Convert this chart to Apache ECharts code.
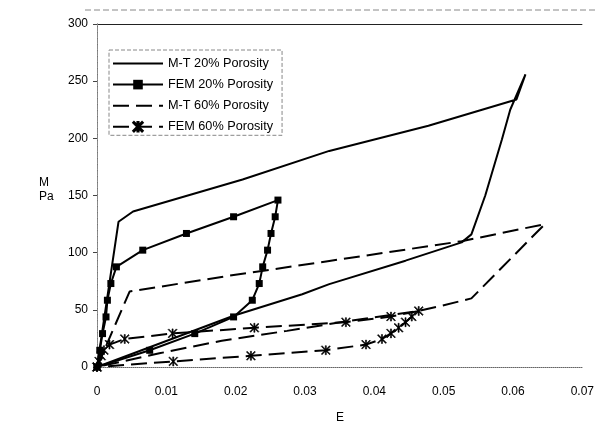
<!DOCTYPE html>
<html><head><meta charset="utf-8">
<script src="https://cdn.jsdelivr.net/npm/echarts@6/dist/echarts.min.js"></script>
<style>html,body{margin:0;padding:0;background:#fff}#c{width:597px;height:440px}</style>
</head><body><div id="c"></div>
<script>
// ---- data ----
const seriesNames = ['M-T 20% Porosity', 'FEM 20% Porosity', 'M-T 60% Porosity', 'FEM 60% Porosity'];
const xTickLabels = ['0', '0.01', '0.02', '0.03', '0.04', '0.05', '0.06', '0.07'];
const yTickLabels = ['0', '50', '100', '150', '200', '250', '300'];

const mt20 = [
  [0, 0], [0.0031, 127], [0.0052, 136], [0.021, 164], [0.0335, 189], [0.0478, 211],
  [0.0605, 234], [0.0618, 256], [0.0596, 225], [0.0584, 199], [0.056, 150], [0.054, 116],
  [0.0526, 109], [0.0445, 93], [0.0335, 72.5], [0.0296, 63.6], [0.0198, 45], [0, 0]
];
const fem20 = [
  [0, 0], [0.0004, 14.6], [0.0008, 29.2], [0.0013, 43.8], [0.0015, 58.4], [0.002, 73],
  [0.0028, 87.6], [0.0066, 102.2], [0.0129, 116.8], [0.0197, 131.4], [0.0261, 146],
  [0.0257, 131.4], [0.0251, 116.8], [0.0246, 102.2], [0.0239, 87.6], [0.0234, 73],
  [0.0224, 58.4], [0.0197, 43.8], [0.0141, 29.2], [0.0076, 14.6], [0, 0]
];
const mt60 = [
  [0, 0], [0.0047, 66], [0.0187, 79.5], [0.0335, 92.7], [0.0526, 110], [0.0646, 125],
  [0.054, 60], [0.0497, 53.5], [0.0464, 49], [0.036, 40], [0.0274, 31.6], [0.018, 23],
  [0.009, 12], [0, 0]
];
const fem60 = [
  [0, 0], [0.0003, 4.9], [0.0006, 9.8], [0.001, 14.7], [0.0018, 19.6], [0.004, 24.5],
  [0.0109, 29.4], [0.0227, 34.3], [0.0359, 39.2], [0.0424, 44.1], [0.0464, 49],
  [0.0454, 44.1], [0.0445, 39.2], [0.0435, 34.3], [0.0424, 29.4], [0.0411, 24.5],
  [0.0388, 19.6], [0.033, 14.7], [0.0222, 9.8], [0.011, 4.9], [0, 0]
];

// ---- chart ----
const FONT = 'Liberation Sans, Arial, sans-serif';
const asterisk = 'path://M4.4,0 H5.6 V10 H4.4 Z M0,0.8 L0.8,0 L10,9.2 L9.2,10 Z M9.2,0 L10,0.8 L0.8,10 L0,9.2 Z';
const dash = [16, 7];
const hidden = {color: 'rgba(0,0,0,0)', borderColor: 'rgba(0,0,0,0)', borderWidth: 0};

const chart = echarts.init(document.getElementById('c'), null, {renderer: 'canvas'});
chart.setOption({
  backgroundColor: '#fff',
  animation: false,
  textStyle: {fontFamily: FONT, color: '#000'},
  grid: {left: 97, right: 13, top: 24, bottom: 73},
  legend: {
    data: seriesNames,
    orient: 'vertical',
    left: 109, top: 50,
    padding: [7, 9, 2, 3],
    itemWidth: 50, itemHeight: 12, itemGap: 8.1,
    borderColor: '#888', borderWidth: 1, borderType: 'dashed',
    textStyle: {fontFamily: FONT, fontSize: 12.7, color: '#000'},
    inactiveColor: '#000'
  },
  xAxis: {
    type: 'value', min: 0, max: 0.07, interval: 0.01,
    axisLine: {show: true, onZero: false, lineStyle: {color: '#666', type: 'dotted', width: 1}},
    axisTick: {show: false},
    splitLine: {show: false},
    axisLabel: {
      margin: 19, fontSize: 12, color: '#000', fontFamily: FONT,
      formatter: v => xTickLabels[Math.round(v / 0.01)]
    }
  },
  yAxis: [{
    type: 'value', min: 0, max: 300, interval: 50,
    axisLine: {show: true, onZero: false, lineStyle: {color: '#666', type: 'dotted', width: 1}},
    axisTick: {show: true, length: 4, lineStyle: {color: '#444'}},
    splitLine: {show: true, lineStyle: {color: ['rgba(0,0,0,0)', 'rgba(0,0,0,0)', 'rgba(0,0,0,0)', 'rgba(0,0,0,0)', 'rgba(0,0,0,0)', 'rgba(0,0,0,0)', '#222'], width: 1}},
    axisLabel: {
      margin: 9, fontSize: 12, color: '#000', fontFamily: FONT,
      formatter: v => yTickLabels[Math.round(v / 50)]
    }
  }, {
    type: 'value', min: 0, max: 300, interval: 50, position: 'right',
    axisLine: {show: true, lineStyle: {color: '#888', type: 'dashed', width: 1}},
    axisTick: {show: false}, axisLabel: {show: false}, splitLine: {show: false}
  }],
  graphic: [
    {type: 'line', shape: {x1: 85, y1: 10, x2: 597, y2: 10}, style: {stroke: '#888', lineWidth: 1, lineDash: [6, 3]}},
    {type: 'text', left: 39, top: 177, style: {text: 'M', font: '12px ' + FONT, fill: '#000'}},
    {type: 'text', left: 39, top: 191, style: {text: 'Pa', font: '12px ' + FONT, fill: '#000'}},
    {type: 'text', left: 336, top: 412, style: {text: 'E', font: '12px ' + FONT, fill: '#000'}}
  ],
  series: [
    {
      name: seriesNames[0], type: 'line', data: mt20, symbol: 'circle', showSymbol: false,
      lineStyle: {color: '#000', width: 2}, itemStyle: hidden, z: 3
    },
    {
      name: seriesNames[1], type: 'line', data: fem20, symbol: 'rect', symbolSize: 7,
      showAllSymbol: true,
      lineStyle: {color: '#000', width: 2}, itemStyle: {color: '#000'}, z: 4
    },
    {
      name: seriesNames[2], type: 'line', data: mt60, symbol: 'circle', showSymbol: false,
      lineStyle: {color: '#000', width: 2, type: dash}, itemStyle: hidden, z: 2
    },
    {
      name: seriesNames[3], type: 'line', data: fem60, symbol: asterisk, symbolSize: 9,
      showAllSymbol: true,
      lineStyle: {color: '#000', width: 2, type: dash},
      itemStyle: {color: '#000', borderColor: '#000', borderWidth: 0.6}, z: 5
    }
  ]
});
</script>
</body></html>
